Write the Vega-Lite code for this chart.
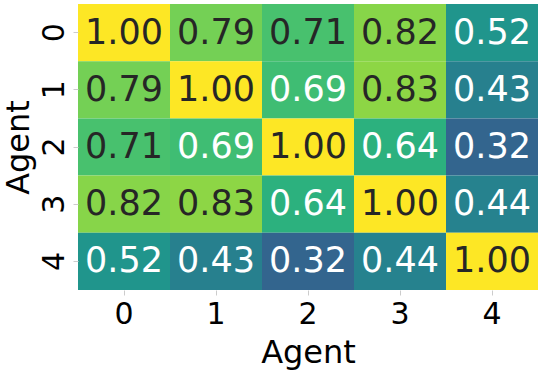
{
  "$schema": "https://vega.github.io/schema/vega-lite/v6.json",
  "autosize": {"type": "none"},
  "width": 460,
  "height": 286,
  "padding": {"left": 78, "top": 4, "right": 6, "bottom": 87},
  "background": "white",
  "config": {"view": {"stroke": null}, "font": "DejaVu Sans"},
  "data": {"values": [
    {"row": "0", "col": "0", "v": 1.00}, {"row": "0", "col": "1", "v": 0.79}, {"row": "0", "col": "2", "v": 0.71}, {"row": "0", "col": "3", "v": 0.82}, {"row": "0", "col": "4", "v": 0.52},
    {"row": "1", "col": "0", "v": 0.79}, {"row": "1", "col": "1", "v": 1.00}, {"row": "1", "col": "2", "v": 0.69}, {"row": "1", "col": "3", "v": 0.83}, {"row": "1", "col": "4", "v": 0.43},
    {"row": "2", "col": "0", "v": 0.71}, {"row": "2", "col": "1", "v": 0.69}, {"row": "2", "col": "2", "v": 1.00}, {"row": "2", "col": "3", "v": 0.64}, {"row": "2", "col": "4", "v": 0.32},
    {"row": "3", "col": "0", "v": 0.82}, {"row": "3", "col": "1", "v": 0.83}, {"row": "3", "col": "2", "v": 0.64}, {"row": "3", "col": "3", "v": 1.00}, {"row": "3", "col": "4", "v": 0.44},
    {"row": "4", "col": "0", "v": 0.52}, {"row": "4", "col": "1", "v": 0.43}, {"row": "4", "col": "2", "v": 0.32}, {"row": "4", "col": "3", "v": 0.44}, {"row": "4", "col": "4", "v": 1.00}
  ]},
  "encoding": {
    "x": {"field": "col", "type": "ordinal", "sort": ["0","1","2","3","4"],
      "scale": {"paddingInner": 0, "paddingOuter": 0},
      "axis": {"title": "Agent", "labelAngle": 0, "labelFontSize": 30, "titleFontSize": 32, "titleFontWeight": "normal",
        "domain": false, "tickColor": "#cccccc", "tickSize": 5, "labelPadding": 4, "titlePadding": 8, "labelColor": "black", "titleColor": "black"}},
    "y": {"field": "row", "type": "ordinal", "sort": ["0","1","2","3","4"],
      "scale": {"paddingInner": 0, "paddingOuter": 0},
      "axis": {"title": "Agent", "labelAngle": 270, "labelFontSize": 30, "titleFontSize": 32, "titleFontWeight": "normal",
        "domain": false, "tickColor": "#cccccc", "tickSize": 5, "labelPadding": 4, "titlePadding": 4, "labelColor": "black", "titleColor": "black"}}
  },
  "layer": [
    {"mark": {"type": "rect"},
     "encoding": {"color": {"field": "v", "type": "quantitative", "scale": {"scheme": "viridis", "domain": [0, 1.0]}, "legend": null}}},
    {"mark": {"type": "text", "fontSize": 35, "font": "DejaVu Sans"},
     "encoding": {
       "text": {"field": "v", "type": "quantitative", "format": ".2f"},
       "color": {"condition": {"test": "datum.v > 0.7", "value": "#262626"}, "value": "white"}
     }}
  ]
}
